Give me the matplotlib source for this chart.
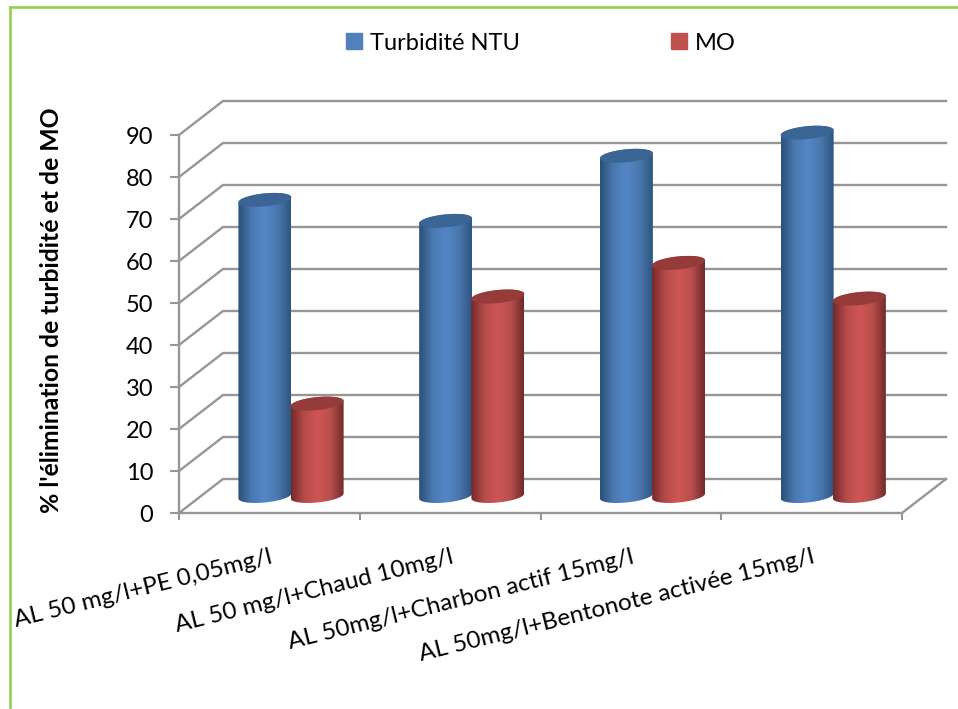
import numpy as np
import matplotlib
matplotlib.use('Agg')
import matplotlib.pyplot as plt
from matplotlib.colors import LinearSegmentedColormap
from matplotlib.lines import Line2D
from matplotlib.patches import Patch, Polygon

categories = ['AL 50 mg/l+PE 0,05mg/l', 'AL 50 mg/l+Chaud 10mg/l',
              'AL 50mg/l+Charbon actif 15mg/l', 'AL 50mg/l+Bentonote activée 15mg/l']
turbidite = [70.5, 65.5, 81, 86.5]
mo = [22, 47.5, 55.5, 47]
y_ticks = [0, 10, 20, 30, 40, 50, 60, 70, 80, 90]

W, H = 958, 709
GRID = '#969696'
BLUE = ['#2b4f78', '#4a78b0', '#5487c8', '#4a78ae', '#2f5580']
RED = ['#74292a', '#b54c4a', '#cf5655', '#b84f4d', '#702b2a']

plt.rcParams['font.family'] = ['Lato', 'DejaVu Sans']

fig = plt.figure(figsize=(W / 100, H / 100), dpi=100)
ax = fig.add_axes([179 / W, 1 - 513 / H, (902 - 179) / W, (513 - 135) / H])
ax.patch.set_visible(False)

# 3D depth of the box, in data units
DX = 44 / 180.75
DY = 34 / 4.2
BAR_W = 0.293


def ellipse(cx, cy, t):
    # tilted ellipse, the right side rises a little
    return np.column_stack([cx + BAR_W / 2 * np.cos(t),
                            cy + 1.55 * np.sin(t) + 0.6 * np.cos(t)])


def cylinder(cx, value, colors, top_color):
    base = DY / 2
    top = value + DY / 2
    lower = ellipse(cx, base, np.linspace(np.pi, 2 * np.pi, 40))
    upper = ellipse(cx, top, np.linspace(0, np.pi, 40))
    body = Polygon(np.vstack([lower, upper]), closed=True, fc='none', ec='none',
                   transform=ax.transData, clip_on=False)
    ax.add_patch(body)
    cmap = LinearSegmentedColormap.from_list('c', colors)
    im = ax.imshow(np.linspace(0, 1, 128)[None, :], cmap=cmap, aspect='auto',
                   extent=[cx - BAR_W / 2, cx + BAR_W / 2, base - 3, top + 3],
                   interpolation='bilinear', zorder=3)
    im.set_clip_box(fig.bbox)
    im.set_clip_path(body)
    ax.add_patch(Polygon(ellipse(cx, top, np.linspace(0, 2 * np.pi, 80)), closed=True,
                         fc=top_color, ec='none', clip_on=False, zorder=3))


# walls
n = len(categories)
for v in y_ticks:
    ax.plot([0, DX, n + DX], [v, v + DY, v + DY], color=GRID, lw=1.7,
            clip_on=False, zorder=1, solid_joinstyle='miter')
ax.plot([n, n + DX], [0, DY], color=GRID, lw=1.7, clip_on=False, zorder=1)

for i in range(n):
    c = i + 0.5 + DX / 2
    cylinder(c - BAR_W / 2, turbidite[i], BLUE, '#3b6595')
    cylinder(c + BAR_W / 2 - 0.004, mo[i], RED, '#953b39')

ax.set_xlim(0, n)
ax.set_ylim(0, 90)

for s in ['top', 'right']:
    ax.spines[s].set_visible(False)
for s in ['left', 'bottom']:
    ax.spines[s].set_color(GRID)
    ax.spines[s].set_linewidth(1.7)
    ax.spines[s].set_zorder(2)

ax.set_yticks(y_ticks)
ax.tick_params(axis='y', length=6.5, width=1.5, color=GRID, pad=12, labelsize=17)
ax.set_xticks(range(n + 1))
ax.set_xticklabels([])
ax.tick_params(axis='x', which='major', length=5, width=1.5, color=GRID)
ax.set_xticks(np.arange(n) + 0.5, minor=True)
ax.set_xticklabels(categories, minor=True, rotation=14, ha='right', va='top',
                   rotation_mode='anchor', fontsize=17.5)
ax.tick_params(axis='x', which='minor', length=0, pad=24)

fig.text(52 / W, 1 - 310 / H, "% l'élimination de turbidité et de MO", rotation=90,
         ha='center', va='center', fontsize=17.8, fontweight='bold')

handles = [Patch(color='#4f81bd', label='Turbidité NTU'), Patch(color='#c0504d', label='MO')]
fig.legend(handles=handles, loc='center left', bbox_to_anchor=(325 / W, 1 - 43 / H), ncol=2,
           frameon=False, fontsize=17, handlelength=0.66, handleheight=0.66,
           handletextpad=0.35, columnspacing=6.4)

# green frame
for xs, ys in [([9.5, 9.5], [707, 7]), ([9.5, W], [7, 7])]:
    fig.add_artist(Line2D([x / W for x in xs], [1 - y / H for y in ys],
                          color='#92d050', lw=1.9, transform=fig.transFigure))

fig.savefig('out.png', dpi=100)
